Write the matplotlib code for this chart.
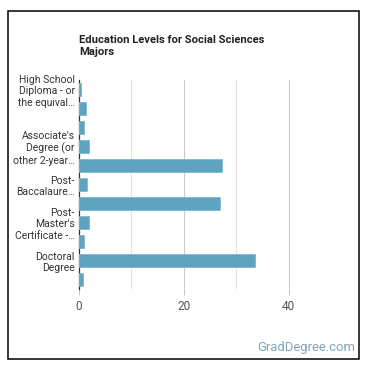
import matplotlib
matplotlib.use("Agg")
import matplotlib.pyplot as plt
from matplotlib.patches import Rectangle

plt.rcParams['font.family'] = ['Roboto', 'DejaVu Sans']

# education levels (only every other label is shown on the chart)
levels = [
    "High School\nDiploma - or\nthe equival\u2026",
    "",
    "",
    "Associate's\nDegree (or\nother 2-year\u2026",
    "",
    "Post-\nBaccalaure\u2026",
    "",
    "Post-\nMaster's\nCertificate -\u2026",
    "",
    "Doctoral\nDegree",
    "",
]
percent = [0.3, 1.3, 0.9, 1.9, 27.2, 1.6, 26.9, 1.9, 0.9, 33.5, 0.7]
x_ticks = [0, 20, 40]

W = 370
fig = plt.figure(figsize=(3.7, 3.7), dpi=100)

# outer frame
fig.patches.append(Rectangle((8 / W, 11 / W), 351 / W, 348 / W, transform=fig.transFigure,
                             fill=False, edgecolor="black", linewidth=1.1))

ax = fig.add_axes([79 / W, 81 / W, 262 / W, 209 / W])
pos = list(range(len(levels)))
ax.barh(pos, percent, height=0.66, color="#5ea4c1", edgecolor="#7fb8d0", linewidth=0.6, zorder=3)
ax.set_ylim(len(levels) - 0.5, -0.5)
ax.set_xlim(0, 50)

ax.set_yticks(pos)
ax.set_yticklabels(levels, fontsize=7.5, color="#333333", linespacing=1.2)
ax.set_xticks(x_ticks)
ax.set_xticklabels([str(t) for t in x_ticks], fontsize=8.5, color="#555555")
ax.tick_params(axis="y", length=0, pad=3)
ax.tick_params(axis="x", length=4, color="#c4c4c4", pad=4)

for v in [10, 30]:
    ax.axvline(v, color="#e4e4e4", linewidth=0.8, zorder=1)
for v in [20, 40]:
    ax.axvline(v, color="#cacaca", linewidth=0.8, zorder=1)

for s in ["top", "right", "bottom"]:
    ax.spines[s].set_visible(False)
ax.spines["left"].set_color("#333333")
ax.spines["left"].set_linewidth(0.9)

fig.text(79 / W, 1 - 35 / W, "Education Levels for Social Sciences\nMajors", fontsize=8.1,
         fontweight="bold", color="#222222", ha="left", va="top", linespacing=1.3)
fig.text(355 / W, 1 - 347 / W, "GradDegree.com", fontsize=9.4, color="#7fa3b8",
         ha="right", va="center")

fig.savefig("out.png", dpi=100)
